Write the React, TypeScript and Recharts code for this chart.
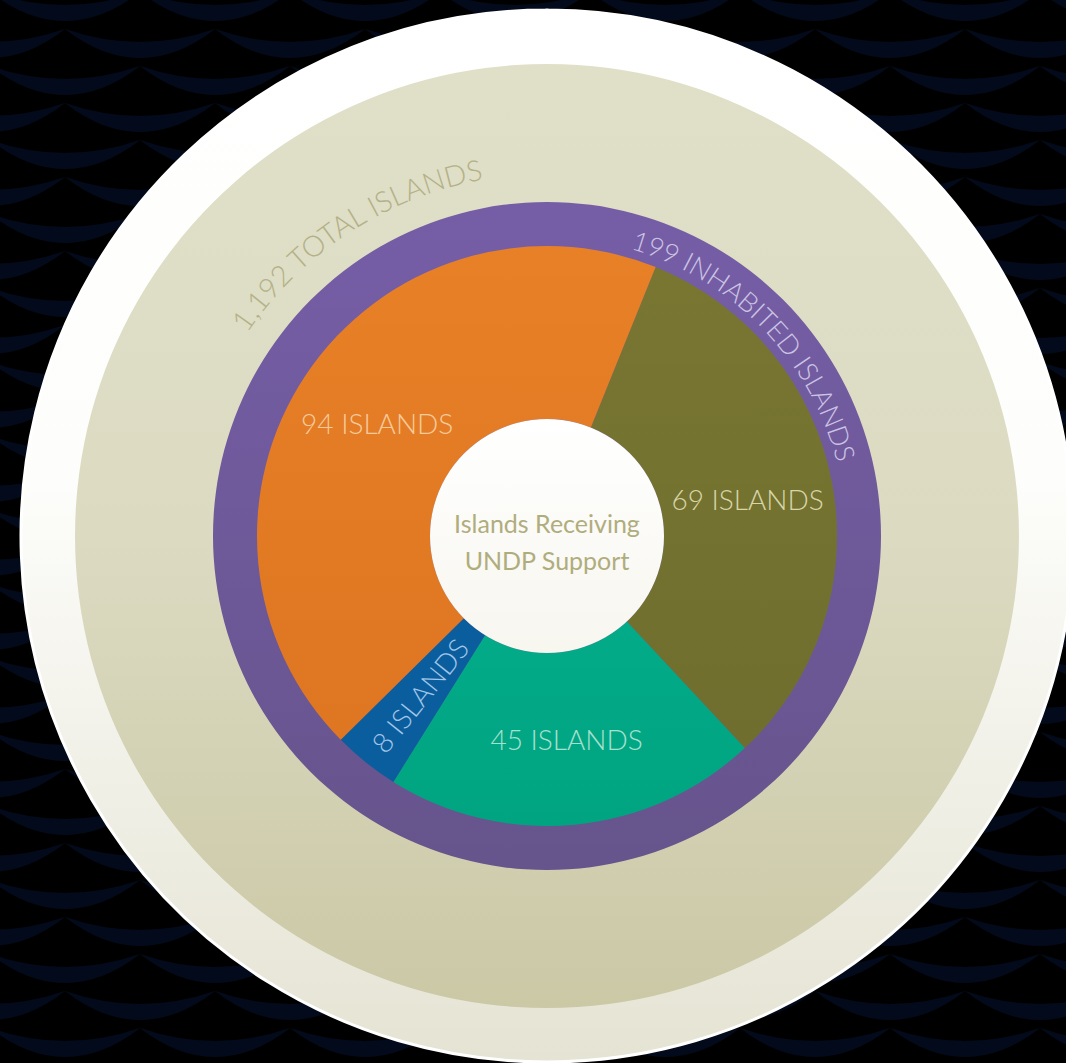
import React from 'react';
import { PieChart, Pie, Cell, Label } from 'recharts';

const W = 1066;
const H = 1063;

// ---- data ----
const totalIslands = [1192];
const inhabitedIslands = [199];
const supportCategories = ['Olive', 'Teal', 'Blue', 'Orange'];
const supportCounts = [69, 45, 8, 94];
const centerTitle = ['Islands Receiving', 'UNDP Support'];
const totalLabel = '1,192 TOTAL ISLANDS';
const inhabitedLabel = '199 INHABITED ISLANDS';

// ---- styles ----
const sliceFills = ['url(#gOlive)', 'url(#gTeal)', '#0b5e9e', 'url(#gOrange)'];
const labelColors = ['#d8d5a9', '#a8e0cf', '#a3c6e8', '#f6cb9c'];
const FONT = 'Lato, "Open Sans", sans-serif';

const supportData = supportCategories.map((c, i) => ({ name: c, value: supportCounts[i] }));
const totalData = totalIslands.map((v) => ({ name: 'total', value: v }));
const inhabitedData = inhabitedIslands.map((v) => ({ name: 'inhabited', value: v }));
const centerData = [{ name: 'center', value: 1 }];

const RAD = Math.PI / 180;

const renderSliceLabel = (props: any) => {
  const { cx, cy, midAngle, percent, index, value } = props;
  const r = 204;
  const a = -midAngle * RAD;
  const x = cx + r * Math.cos(a);
  const y = cy + r * Math.sin(a);
  const small = percent < 0.1;
  const rot = -(midAngle + 180);
  return (
    <text
      x={x}
      y={y}
      fill={labelColors[index]}
      textAnchor="middle"
      dominantBaseline="central"
      fontSize={28}
      fontWeight={300}
      fontFamily={FONT}
      transform={small ? `rotate(${rot} ${x} ${y})` : undefined}
    >
      {`${value} ISLANDS`}
    </text>
  );
};

const arcLabel = (id: string, text: string, radius: number, centerDeg: number, fill: string, fontSize: number, spacing: number) =>
  (props: any) => {
    const vb = props.viewBox || {};
    const cx = vb.cx;
    const cy = vb.cy;
    const a1 = (centerDeg - 85) * RAD;
    const a2 = (centerDeg + 85) * RAD;
    const x1 = cx + radius * Math.sin(a1);
    const y1 = cy - radius * Math.cos(a1);
    const x2 = cx + radius * Math.sin(a2);
    const y2 = cy - radius * Math.cos(a2);
    return (
      <g>
        <defs>
          <path id={id} d={`M${x1},${y1} A${radius},${radius} 0 0 1 ${x2},${y2}`} fill="none" />
        </defs>
        <text fill={fill} fontSize={fontSize} fontWeight={300} fontFamily={FONT} letterSpacing={spacing}>
          <textPath href={`#${id}`} startOffset="50%" textAnchor="middle">
            {text}
          </textPath>
        </text>
      </g>
    );
  };

const centerLabel = (props: any) => {
  const vb = props.viewBox || {};
  const cx = vb.cx;
  const cy = vb.cy;
  return (
    <g>
      <text x={cx} y={cy - 13} fill="#b0ad7d" fontSize={25} fontFamily={FONT} textAnchor="middle" dominantBaseline="central">
        {centerTitle[0]}
      </text>
      <text x={cx} y={cy + 24} fill="#b0ad7d" fontSize={25} fontFamily={FONT} textAnchor="middle" dominantBaseline="central">
        {centerTitle[1]}
      </text>
    </g>
  );
};

const Waves = () => (
  <svg width={W} height={H} style={{ position: 'absolute', left: 0, top: 0 }}>
    <defs>
      <pattern id="waves" width="150" height="74" patternUnits="userSpaceOnUse" x="-10" y="-8">
        <rect width="150" height="74" fill="#000000" />
        <path d="M0,0 Q75,26 150,0 Q75,58 0,0Z" fill="#020a1b" />
        <path d="M-75,37 Q0,63 75,37 Q0,95 -75,37Z" fill="#020a1b" />
        <path d="M75,37 Q150,63 225,37 Q150,95 75,37Z" fill="#020a1b" />
      </pattern>
    </defs>
    <rect width={W} height={H} fill="url(#waves)" />
  </svg>
);

export default function App() {
  const CX = 547;
  const CY = 536;
  return (
    <div style={{ position: 'fixed', left: 0, top: 0, width: W, height: H, background: '#000', overflow: 'hidden' }}>
      <Waves />
      <div style={{ position: 'absolute', left: 0, top: 0 }}>
        <PieChart width={W} height={H} margin={{ top: 0, right: 0, bottom: 0, left: 0 }}>
          <defs>
            <linearGradient id="gWhite" x1="0" y1="0" x2="0" y2="1">
              <stop offset="0%" stopColor="#ffffff" />
              <stop offset="45%" stopColor="#fdfdfb" />
              <stop offset="100%" stopColor="#e5e3d3" />
            </linearGradient>
            <linearGradient id="gBeige" x1="0" y1="0" x2="0" y2="1">
              <stop offset="0%" stopColor="#e0dfc8" />
              <stop offset="50%" stopColor="#dcdbc2" />
              <stop offset="100%" stopColor="#cac8a5" />
            </linearGradient>
            <linearGradient id="gPurple" x1="0" y1="0" x2="0" y2="1">
              <stop offset="0%" stopColor="#765ea7" />
              <stop offset="100%" stopColor="#66548c" />
            </linearGradient>
            <linearGradient id="gOrange" x1="0" y1="0" x2="0" y2="1">
              <stop offset="0%" stopColor="#e88027" />
              <stop offset="100%" stopColor="#de7622" />
            </linearGradient>
            <linearGradient id="gOlive" x1="0" y1="0" x2="0" y2="1">
              <stop offset="0%" stopColor="#787631" />
              <stop offset="100%" stopColor="#706e2e" />
            </linearGradient>
            <linearGradient id="gTeal" x1="0" y1="0" x2="0" y2="1">
              <stop offset="0%" stopColor="#03ab89" />
              <stop offset="100%" stopColor="#00a480" />
            </linearGradient>
            <linearGradient id="gCenter" x1="0" y1="0" x2="0" y2="1">
              <stop offset="0%" stopColor="#ffffff" />
              <stop offset="100%" stopColor="#f7f6ef" />
            </linearGradient>
          </defs>
          <Pie
            data={totalData}
            dataKey="value"
            cx={CX}
            cy={CY}
            innerRadius={0}
            outerRadius={526}
            startAngle={90}
            endAngle={-270}
            fill="url(#gWhite)"
            stroke="#ffffff"
            strokeWidth={3}
            isAnimationActive={false}
          />
          <Pie
            data={totalData}
            dataKey="value"
            cx={CX}
            cy={CY}
            innerRadius={0}
            outerRadius={472}
            startAngle={90}
            endAngle={-270}
            fill="url(#gBeige)"
            stroke="none"
            isAnimationActive={false}
          >
            <Label content={arcLabel('arcTotal', totalLabel, 362, -33, '#b3b187', 29, 0)} />
          </Pie>
          <Pie
            data={inhabitedData}
            dataKey="value"
            cx={CX}
            cy={CY}
            innerRadius={0}
            outerRadius={334}
            startAngle={90}
            endAngle={-270}
            fill="url(#gPurple)"
            stroke="none"
            isAnimationActive={false}
          >
            <Label content={arcLabel('arcInhabited', inhabitedLabel, 299, 46, '#cbc4e4', 27, 0)} />
          </Pie>
          <Pie
            data={supportData}
            dataKey="value"
            cx={CX}
            cy={CY}
            innerRadius={117}
            outerRadius={290}
            startAngle={68}
            endAngle={-292}
            stroke="none"
            label={renderSliceLabel}
            labelLine={false}
            isAnimationActive={false}
          >
            {supportData.map((d, i) => (
              <Cell key={d.name} fill={sliceFills[i]} />
            ))}
          </Pie>
          <Pie
            data={centerData}
            dataKey="value"
            cx={CX}
            cy={CY}
            innerRadius={0}
            outerRadius={117}
            startAngle={90}
            endAngle={-270}
            fill="url(#gCenter)"
            stroke="none"
            isAnimationActive={false}
          >
            <Label content={centerLabel} />
          </Pie>
        </PieChart>
      </div>
    </div>
  );
}
